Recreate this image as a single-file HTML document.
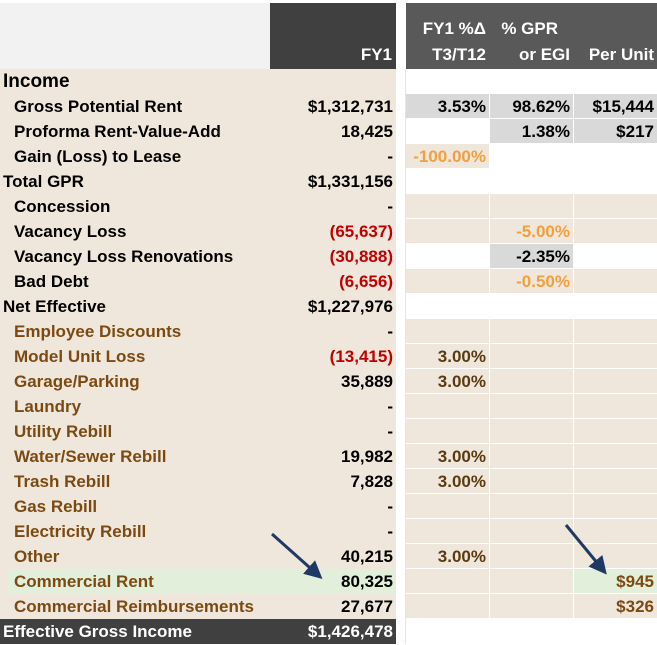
<!DOCTYPE html>
<html><head><meta charset="utf-8"><style>
body{margin:0;width:657px;height:645px;background:#fff;position:relative;overflow:hidden;font-family:"Liberation Sans",sans-serif;font-weight:bold;font-size:17px}
.c{position:absolute;box-sizing:border-box;height:25px;line-height:25px;white-space:nowrap;overflow:visible}
.r{text-align:right;padding-right:3px}
.hd{position:absolute;color:#fff;text-align:right;box-sizing:border-box;padding-right:4px;line-height:25px;font-size:17px}
</style></head><body>
<div class="c" style="left:0;top:3px;width:270px;height:66px;background:#f2f2f2"></div>
<div class="hd" style="left:270px;top:3px;width:126px;height:66px;background:#404040"><div style="position:absolute;right:4px;top:39px">FY1</div></div>
<div class="hd" style="left:406px;top:3px;width:84px;height:66px;background:#595959"><div style="position:absolute;right:4px;top:13px">FY1 %Δ</div><div style="position:absolute;right:4px;top:39px">T3/T12</div></div>
<div class="hd" style="left:490px;top:3px;width:84px;height:66px;background:#595959"><div style="position:absolute;right:16px;top:13px">% GPR</div><div style="position:absolute;right:4px;top:39px">or EGI</div></div>
<div class="hd" style="left:574px;top:3px;width:83px;height:66px;background:#595959"><div style="position:absolute;right:3px;top:39px">Per Unit</div></div>
<div id="rows"></div>
<svg style="position:absolute;left:0;top:0" width="657" height="645">
<defs><marker id="ah" markerWidth="6" markerHeight="6" refX="4" refY="3" orient="auto"><path d="M0,0 L6,3 L0,6 z" fill="#1f3864"/></marker></defs>
<line x1="272" y1="534" x2="318" y2="575" stroke="#1f3864" stroke-width="3" marker-end="url(#ah)"/>
<line x1="566" y1="525" x2="603" y2="570" stroke="#1f3864" stroke-width="3" marker-end="url(#ah)"/>
</svg>
<script>
const labels=["Income","Gross Potential Rent","Proforma Rent-Value-Add","Gain (Loss) to Lease","Total GPR","Concession","Vacancy Loss","Vacancy Loss Renovations","Bad Debt","Net Effective","Employee Discounts","Model Unit Loss","Garage/Parking","Laundry","Utility Rebill","Water/Sewer Rebill","Trash Rebill","Gas Rebill","Electricity Rebill","Other","Commercial Rent","Commercial Reimbursements","Effective Gross Income"];
const fy1=["","$1,312,731","18,425","-","$1,331,156","-","(65,637)","(30,888)","(6,656)","$1,227,976","-","(13,415)","35,889","-","-","19,982","7,828","-","-","40,215","80,325","27,677","$1,426,478"];
const chg=["","3.53%","","-100.00%","","","","","","","","3.00%","3.00%","","","3.00%","3.00%","","","3.00%","","",""];
const pct=["","98.62%","1.38%","","","","-5.00%","-2.35%","-0.50%","","","","","","","","","","","","","",""];
const unit=["","$15,444","$217","","","","","","","","","","","","","","","","","","$945","$326",""];
const kind=["h","s","s","s","h","s","s","s","s","h","o","o","o","o","o","o","o","o","o","o","o","o","e"];
const W="#fff",B="#efe7db",G="#d9d9d9",N="#e2efda";
const bgs=[[W,W,W],[G,G,G],[W,G,G],[B,W,W],[W,W,W],[B,B,B],[B,B,B],[W,G,W],[B,B,B],[W,W,W],[B,B,B],[B,B,B],[B,B,B],[B,B,B],[B,B,B],[B,B,B],[B,B,B],[B,B,B],[B,B,B],[B,B,B],[B,B,N],[B,B,B],[W,W,W]];
const host=document.getElementById('rows');
function cell(x,y,w,bg,txt,color,cls){const d=document.createElement('div');d.className='c '+cls;d.style.left=x+'px';d.style.top=y+'px';d.style.width=w+'px';d.style.background=bg;d.style.color=color;d.textContent=txt;


host.appendChild(d);return d;}
labels.forEach((l,i)=>{const y=69+25*i,k=kind[i];
let lbg=B,lc="#000",vc="#000";
if(k==='o'){lc="#7b4a12";}
if(k==='e'){lbg="#404040";lc="#fff";vc="#fff";}
if(fy1[i].startsWith('(')) vc="#c00000";
if(i===20){cell(0,y,8,B,"","",'');}
const a=cell(i===20?8:0,y,i===20?262:270,i===20?N:lbg,l,lc,'');a.style.paddingLeft=(k==='h'||k==='e'?(i===20?0:3):(i===20?6:14))+'px';
if(i===0)a.style.fontSize='19px';

cell(270,y,126,i===20?N:lbg,fy1[i],vc,'r');
cell(396,y,10,W,"","",'').style.borderRight="1px solid #e6e6e6";
const orange="#f0a040";
const cc=chg[i].startsWith('-')?orange:(k==='o'?"#5a3a10":"#000");
const c1=cell(406,y,84,bgs[i][0],chg[i],cc,'r');c1.style.borderRight="1px solid #fff";c1.style.borderBottom="1px solid #fff";

const pc=(pct[i].startsWith('-')&&i!==7)?orange:"#000";
const c2=cell(490,y,84,bgs[i][1],pct[i],pc,'r');c2.style.borderRight="1px solid #fff";c2.style.borderBottom="1px solid #fff";

const uc=k==='o'?"#7b4a12":"#000";
const c3=cell(574,y,83,bgs[i][2],unit[i],uc,'r');c3.style.borderBottom="1px solid #fff";

});
</script>
</body></html>
